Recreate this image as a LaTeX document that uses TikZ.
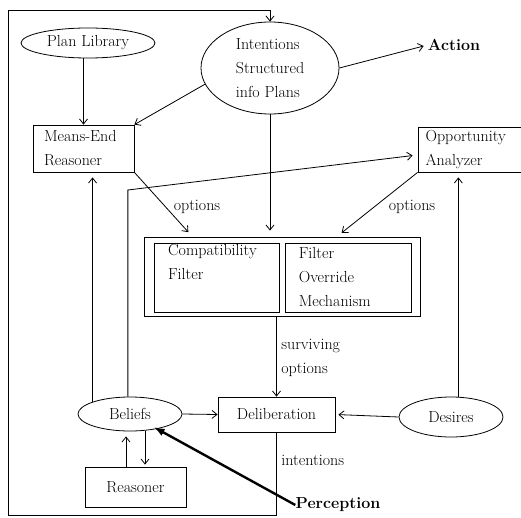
\documentclass[tikz,border=0pt]{standalone}
\usepackage{tikz}
\usetikzlibrary{arrows.meta,positioning,shapes.geometric}
\tikzset{
block/.style={draw,align=left,inner sep=0pt,font=\fontsize{16}{24}\selectfont},
oval/.style={draw,ellipse,align=left,inner sep=0pt,font=\fontsize{16}{24}\selectfont},
lbl/.style={inner sep=0pt,align=left,font=\fontsize{16}{24}\selectfont},
boldlbl/.style={inner sep=0pt,font=\fontsize{16}{24}\selectfont\bfseries},
arrow/.style={-{Straight Barb[length=5pt,width=8pt]},line width=.8pt},
boldarrow/.style={-{Latex[length=11pt,width=8pt]},line width=2.4pt}
}
\begin{document}
\begin{tikzpicture}[x=1pt,y=-1pt,line width=.8pt]
\useasboundingbox (0,0) rectangle (521,518);
\node[oval,minimum width=134pt,minimum height=30pt] (plan) at (88,43) {Plan Library};
\node[oval,minimum width=138pt,minimum height=92pt] (intent) at (270,68) {Intentions\\Structured\\info Plans};
\node[boldlbl] (action) at (454,45) {Action};
\node[block,minimum width=101pt,minimum height=47pt,text width=79pt] (means) at (83.5,148.5) {Means-End\\Reasoner};
\node[block,minimum width=103pt,minimum height=45pt,text width=88pt] (opp) at (469.5,149.5) {Opportunity\\Analyzer};
\node[draw,minimum width=276pt,minimum height=79pt] (filt) at (282,276.5) {};
\node[block,minimum width=125pt,minimum height=69pt,text width=97pt] (compat) at (216.5,277.5) {Compatibility\\Filter\\\strut};
\node[block,minimum width=126pt,minimum height=69pt,text width=100pt,right=6pt of compat] (override) {Filter\\Override\\Mechanism};
\node[block,minimum width=117pt,minimum height=35pt,align=center] (delib) at (276.5,414.5) {Deliberation};
\node[oval,minimum width=104pt,minimum height=34pt] (beliefs) at (130,414) {Beliefs};
\node[oval,minimum width=104pt,minimum height=40pt] (desires) at (451,417) {Desires};
\node[block,minimum width=101pt,minimum height=40pt,align=center] (reasoner) at (135.5,487) {Reasoner};
\node[boldlbl] (percep) at (338,505) {Perception};
\node[lbl] (opt1) at (197,207) {options};
\node[lbl] (opt2) at (412,207) {options};
\node[lbl,anchor=west] (surv) at (281,358) {surviving\\options};
\node[lbl,anchor=west] (intlbl) at (281,460) {intentions};
\coordinate (lt) at (8,10);
\coordinate (lb) at (8,515);
\coordinate (bend) at (beliefs.97 |- 0,190);

\draw[arrow] (delib.south) |- (lb) -- (lt) -| (intent.north);
\draw[arrow] (means.north |- plan.south) -- (means.north);
\draw[arrow] (intent.194) -- (means.north east);
\draw[arrow,shorten >=4pt] (intent.east) -- (action.west);
\draw[arrow,shorten >=6pt] (means.south east) -- (filt.156);
\draw[arrow,shorten >=6pt] (intent.south) -- (intent.south |- filt.north);
\draw[arrow,shorten >=6pt] (opp.south west) -- (filt.36);
\draw[arrow] (delib.north |- filt.south) -- (delib.north);
\draw[arrow] (beliefs.east) -- (delib.west);
\draw[arrow,shorten >=3pt] (desires.west) -- (delib.east);
\draw[arrow,shorten >=5pt] (desires.70) -- (desires.70 |- opp.south);
\draw[arrow,shorten >=5pt] (beliefs.97) -- (bend) -- (opp.186);
\draw[arrow,shorten >=5pt] (beliefs.162) -- (beliefs.162 |- means.south);
\draw[arrow,shorten >=5pt] ([xshift=-9.5pt]reasoner.north) -- ([xshift=-9.5pt]reasoner.north |- beliefs.south);
\draw[arrow,shorten >=2pt] ([xshift=9.5pt]reasoner.north |- beliefs.south) -- ([xshift=9.5pt]reasoner.north);
\draw[boldarrow,shorten >=27pt] (percep.west) -- (beliefs.center);
\end{tikzpicture}
\end{document}
